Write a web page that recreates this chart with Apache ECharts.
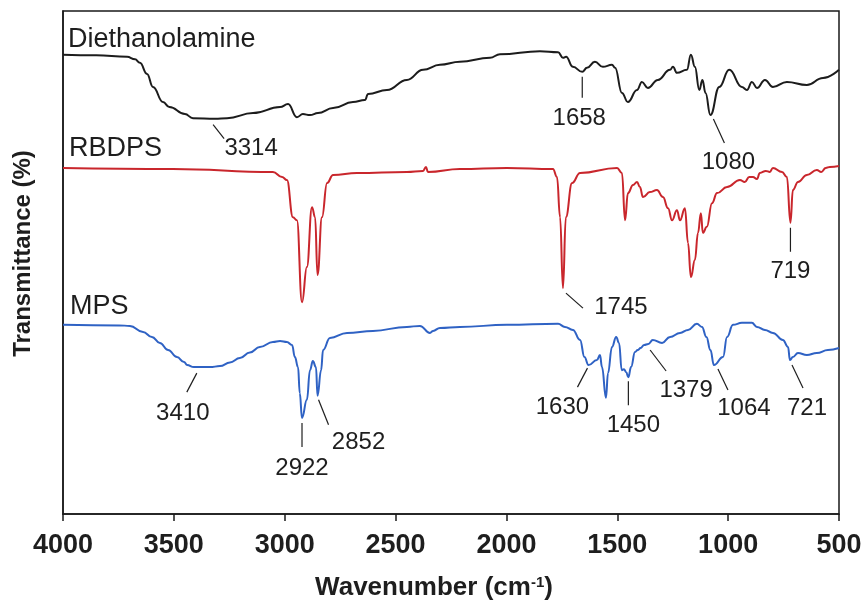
<!DOCTYPE html>
<html>
<head>
<meta charset="utf-8">
<script src="https://cdn.jsdelivr.net/npm/echarts@6/dist/echarts.min.js"></script>
<style>
  html, body { margin: 0; padding: 0; background: #ffffff; }
  #chart { width: 865px; height: 612px; }
</style>
</head>
<body>
<div id="chart"></div>
<script>
// FTIR spectra: [wavenumber (cm-1), transmittance (a.u., offset per trace)]
const diethanolamine = [
  [4000, 91.3], [3850, 91.2], [3711, 90.9], [3675, 90.4], [3653, 89.7], [3621, 87.5],
  [3594, 84.9], [3549, 81.9], [3520, 80.9], [3450, 79.5], [3414, 78.7], [3314, 78.6],
  [3260, 78.7], [3143, 79.7], [3021, 80.9],
  [2985, 81.5], [2945, 78.9], [2918, 79.5], [2886, 79.3], [2850, 79.7], [2782, 80.7],
  [2692, 81.9], [2638, 82.3], [2624, 83.5], [2539, 84.3], [2449, 86.3], [2376, 88.3],
  [2300, 89.3], [2210, 89.9], [2074, 90.7], [2029, 91.4], [1849, 92.0], [1767, 91.8],
  [1745, 90.7], [1731, 90.9], [1700, 88.9], [1658, 87.9], [1637, 88.7], [1601, 89.9],
  [1565, 88.9], [1524, 89.3], [1510, 88.7], [1479, 83.7], [1452, 81.9], [1411, 84.3],
  [1389, 85.9], [1362, 84.7], [1317, 86.3], [1262, 88.3], [1249, 88.9], [1231, 87.7],
  [1186, 88.3], [1168, 91.3], [1150, 88.9], [1130, 84.3], [1116, 86.3], [1102, 83.7],
  [1080, 79.3], [1040, 84.9], [995, 88.3], [938, 84.9], [915, 84.3], [893, 85.9],
  [870, 84.7], [834, 86.3], [798, 84.9], [735, 85.9], [645, 85.3], [572, 86.7], [500, 88.3]
];

const rbdps = [
  [4000, 68.8], [3504, 68.6], [3053, 68.0], [3012, 67.0], [2990, 66.4], [2963, 59.0],
  [2945, 58.4], [2922, 42.1], [2900, 49.1], [2877, 61.0], [2863, 59.0], [2852, 47.5],
  [2832, 59.0], [2809, 65.8], [2782, 67.4], [2674, 67.8], [2449, 68.0], [2376, 68.2],
  [2363, 69.0], [2354, 68.0], [2210, 68.6], [1998, 68.8], [1790, 68.6], [1772, 67.0],
  [1758, 59.0], [1745, 44.9], [1732, 59.0], [1704, 65.8], [1668, 67.8], [1501, 68.8],
  [1479, 67.8], [1465, 58.4], [1452, 63.8], [1429, 65.4], [1411, 66.0], [1398, 65.0],
  [1384, 63.0], [1353, 64.0], [1321, 64.4], [1294, 63.0], [1271, 60.8], [1253, 58.4],
  [1231, 60.4], [1217, 58.4], [1195, 60.8], [1181, 53.9], [1168, 47.1], [1150, 50.5],
  [1136, 55.9], [1123, 59.8], [1114, 55.9], [1096, 57.1], [1073, 61.8], [1050, 63.8],
  [1005, 65.0], [947, 66.4], [925, 66.0], [905, 67.0], [888, 67.0], [870, 66.6],
  [857, 67.8], [830, 68.2], [812, 68.0], [798, 68.8], [757, 68.0], [735, 67.0],
  [719, 57.9], [708, 64.4], [685, 66.0], [645, 67.4], [600, 68.4], [580, 68.0],
  [560, 68.8], [541, 69.0], [500, 69.2]
];

const mps = [
  [4000, 37.6], [3747, 37.5], [3698, 37.4], [3639, 36.2], [3599, 35.2], [3563, 34.0],
  [3526, 32.6], [3486, 31.2], [3454, 30.2], [3440, 29.6], [3410, 29.2], [3382, 29.2],
  [3337, 29.2], [3292, 29.4], [3247, 30.1], [3202, 31.0], [3157, 32.1], [3112, 33.2],
  [3053, 34.2],
  [3021, 34.4], [2990, 34.2], [2967, 33.6], [2954, 31.2], [2940, 29.2], [2932, 24.0],
  [2922, 19.1], [2900, 22.7], [2886, 28.6], [2873, 30.4], [2859, 29.2], [2852, 23.5],
  [2836, 28.6], [2827, 32.6], [2796, 35.0], [2719, 36.0], [2602, 36.4], [2449, 37.2],
  [2390, 37.4], [2345, 36.0], [2331, 36.4], [2300, 37.0], [2210, 37.2], [1998, 37.6],
  [1767, 37.8], [1736, 37.2], [1700, 36.6], [1668, 34.6], [1648, 31.2], [1630, 29.6],
  [1592, 30.6], [1578, 31.6], [1569, 29.2], [1551, 23.1], [1542, 28.0], [1524, 33.2],
  [1505, 35.2], [1492, 34.0], [1480, 28.6], [1470, 28.8], [1460, 28.2], [1450, 27.2],
  [1438, 29.2], [1420, 32.2], [1408, 32.6], [1395, 33.0], [1379, 33.6], [1360, 33.8],
  [1340, 34.6], [1298, 34.0], [1262, 35.2], [1217, 36.0], [1181, 36.6], [1141, 37.8],
  [1118, 37.2], [1098, 35.2], [1080, 32.6], [1064, 29.6], [1023, 31.2], [1005, 35.2],
  [978, 37.6], [938, 38.0], [893, 38.0], [870, 37.2], [834, 36.6], [798, 36.0],
  [753, 34.6], [730, 33.2], [721, 30.6], [708, 31.2], [685, 32.0], [645, 31.6],
  [600, 32.0], [550, 32.6], [500, 33.0]
];

// Band assignments marked on each trace
const diethanolaminePeaks = [3314, 1658, 1080];
const rbdpsPeaks = [1745, 719];
const mpsPeaks = [3410, 2922, 2852, 1630, 1450, 1379, 1064, 721];

const traceNames = ['Diethanolamine', 'RBDPS', 'MPS'];
const xTicks = [500, 1000, 1500, 2000, 2500, 3000, 3500, 4000];

// Leader line and label placement (pixel offsets from the band position)
// [x1, y1, x2, y2, textX, textY]
const peakLayout = {
  'Diethanolamine-3314': [-2, 6, 9, 20, 36, 30],
  'Diethanolamine-1658': [0, 5, 0, 26, -3, 47],
  'Diethanolamine-1080': [3, 4, 14, 28, 18, 47],
  'RBDPS-1745': [3, 5, 20, 20, 58, 19],
  'RBDPS-719': [0, 5, 0, 29, 0, 49],
  'MPS-3410': [3, 6, -7, 25, -11, 46],
  'MPS-2922': [0, 5, 0, 29, 0, 50],
  'MPS-2852': [1, 4, 11, 29, 41, 47],
  'MPS-1630': [-1, 3, -11, 22, -26, 42],
  'MPS-1450': [0, 4, 0, 28, 5, 48],
  'MPS-1379': [6, 5, 22, 26, 42, 45],
  'MPS-1064': [4, 4, 14, 25, 30, 43],
  'MPS-721': [2, 5, 13, 28, 17, 48]
};
const nameOffset = { 'Diethanolamine': [5, -15], 'RBDPS': [6, -19], 'MPS': [7, -18] };

const COLORS = ['#1c1c1c', '#c9262c', '#2f62c4'];
const TEXT = '#1e1e1e';
const FONT = 'Liberation Sans, Arial, sans-serif';
const traces = [diethanolamine, rbdps, mps];
const peakSets = [diethanolaminePeaks, rbdpsPeaks, mpsPeaks];

function valueAt(trace, wn) {
  const p = trace.find(d => d[0] === wn);
  return p ? p[1] : null;
}

// annotation records: [wavenumber, value, traceIndex]
const annoData = [];
peakSets.forEach((peaks, ti) => {
  peaks.forEach(wn => annoData.push([wn, valueAt(traces[ti], wn), ti]));
});
const nameData = traces.map((t, ti) => [t[0][0], t[0][1], ti]);

const chart = echarts.init(document.getElementById('chart'), null, { renderer: 'canvas' });

const lineSeries = traces.map((t, i) => ({
  name: traceNames[i],
  type: 'line',
  data: t,
  showSymbol: false,
  smooth: 0.45,
  smoothMonotone: 'x',
  lineStyle: { color: COLORS[i], width: 2 },
  silent: true,
  z: 3
}));

const option = {
  animation: false,
  backgroundColor: '#ffffff',
  grid: {
    left: 63, right: 26, top: 11, bottom: 98,
    show: true, borderColor: '#1a1a1a', borderWidth: 1.5, backgroundColor: 'transparent'
  },
  xAxis: {
    type: 'value',
    inverse: true,
    min: 500, max: 4000, interval: 500,
    name: 'Wavenumber (cm{sup|-1})',
    nameLocation: 'middle',
    nameGap: 61,
    nameTextStyle: {
      fontFamily: FONT,
      fontWeight: 'bold', fontSize: 26, color: TEXT,
      padding: [0, 34, 0, 0],
      rich: {
        sup: { fontFamily: FONT, fontWeight: 'bold',
               fontSize: 15, color: TEXT, verticalAlign: 'top', padding: [0, 0, 10, 0] }
      }
    },
    axisLine: { show: true, lineStyle: { color: '#1a1a1a', width: 1.5 } },
    axisTick: { show: true, inside: false, length: 7, lineStyle: { color: '#1a1a1a', width: 1.5 } },
    axisLabel: {
      margin: 18,
      fontFamily: FONT,
      fontWeight: 'bold', fontSize: 27, color: TEXT,
      formatter: v => (xTicks.includes(v) ? String(v) : '')
    },
    splitLine: { show: false }
  },
  yAxis: {
    type: 'value',
    min: 0, max: 100,
    name: 'Transmittance (%)',
    nameLocation: 'middle',
    nameRotate: 90,
    nameGap: 28,
    nameTextStyle: {
      fontFamily: FONT,
      fontWeight: 'bold', fontSize: 24, color: TEXT,
      padding: [0, 0, 0, 18]
    },
    axisLine: { show: true, lineStyle: { color: '#1a1a1a', width: 1.5 } },
    axisTick: { show: false },
    axisLabel: { show: false },
    splitLine: { show: false }
  },
  series: [
    ...lineSeries,
    {
      name: 'band labels',
      type: 'custom',
      coordinateSystem: 'cartesian2d',
      data: annoData,
      silent: true,
      z: 5,
      renderItem: (params, api) => {
        const wn = api.value(0);
        const ti = api.value(2);
        const p = api.coord([wn, api.value(1)]);
        const o = peakLayout[traceNames[ti] + '-' + wn];
        return {
          type: 'group',
          children: [
            {
              type: 'line',
              shape: { x1: p[0] + o[0], y1: p[1] + o[1], x2: p[0] + o[2], y2: p[1] + o[3] },
              style: { stroke: TEXT, lineWidth: 1.2 }
            },
            {
              type: 'text',
              x: p[0] + o[4], y: p[1] + o[5],
              style: {
                text: String(wn),
                fontFamily: FONT,
                fontSize: 24, fill: TEXT,
                align: 'center', verticalAlign: 'middle',
                textAlign: 'center', textVerticalAlign: 'middle'
              }
            }
          ]
        };
      }
    },
    {
      name: 'trace names',
      type: 'custom',
      coordinateSystem: 'cartesian2d',
      data: nameData,
      silent: true,
      z: 5,
      renderItem: (params, api) => {
        const ti = api.value(2);
        const p = api.coord([api.value(0), api.value(1)]);
        const o = nameOffset[traceNames[ti]];
        return {
          type: 'text',
          x: p[0] + o[0], y: p[1] + o[1],
          style: {
            text: traceNames[ti],
            fontFamily: FONT,
            fontSize: 27, fill: TEXT,
            align: 'left', verticalAlign: 'middle',
            textAlign: 'left', textVerticalAlign: 'middle'
          }
        };
      }
    }
  ]
};

chart.setOption(option);
</script>
</body>
</html>
